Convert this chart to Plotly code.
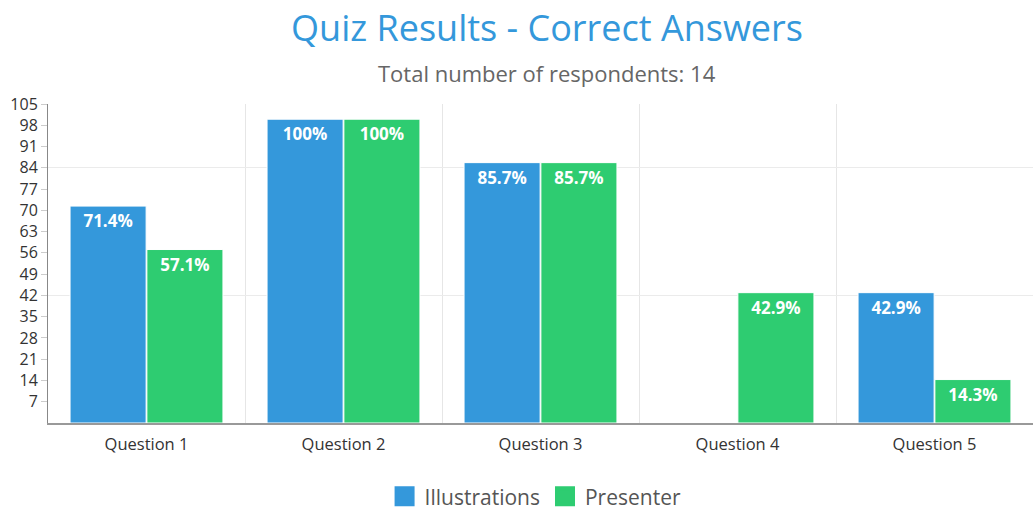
import plotly.graph_objects as go

categories = ["Question 1", "Question 2", "Question 3", "Question 4", "Question 5"]
illustrations = [71.4, 100, 85.7, 0, 42.9]
presenter = [57.1, 100, 85.7, 42.9, 14.3]
y_ticks = [7, 14, 21, 28, 35, 42, 49, 56, 63, 70, 77, 84, 91, 98, 105]
grid_vals = [42, 84]

BLUE = "#3498db"
GREEN = "#2ecc71"
FONT = "Open Sans"


def labels(vals):
    return [f"{v:g}%" if v else "" for v in vals]


fig = go.Figure()
for name, vals, col in [("Illustrations", illustrations, BLUE), ("Presenter", presenter, GREEN)]:
    fig.add_trace(go.Bar(
        name=name, x=categories, y=vals, text=labels(vals),
        textposition="inside", insidetextanchor="end", textangle=0,
        textfont=dict(family=FONT, size=17, color="white", weight="bold"),
        marker=dict(color=col, line=dict(color="white", width=1)),
        showlegend=False,
    ))
    # legend-only entry with a larger square swatch
    fig.add_trace(go.Scatter(
        name=name, x=[None], y=[None], mode="markers",
        marker=dict(symbol="square", size=26, color=col, line=dict(color=col, width=4)),
        showlegend=True, hoverinfo="skip",
    ))
# invisible trace to drive the secondary grid axis
fig.add_trace(go.Scatter(x=categories, y=[None] * len(categories), yaxis="y2",
                         showlegend=False, hoverinfo="skip"))

fig.update_layout(
    width=1033, height=511,
    margin=dict(l=48, r=0, t=104, b=88, autoexpand=False),
    paper_bgcolor="white", plot_bgcolor="white",
    barmode="group", bargap=0.22, bargroupgap=0.01,
    font=dict(family=FONT, color="#333"),
    title=dict(text="Quiz Results - Correct Answers", x=0.5295, xanchor="center",
               y=0.945, yanchor="middle",
               font=dict(family=FONT, size=36, color=BLUE)),
    annotations=[dict(text="Total number of respondents: 14", xref="paper", yref="paper",
                      x=0.5066, y=1.0, yshift=31, yanchor="middle", showarrow=False,
                      font=dict(family=FONT, size=22, color="#666"))],
    legend=dict(orientation="h", x=0.495, xanchor="center", yref="container",
                y=0.028, yanchor="middle", itemsizing="trace",
                font=dict(family=FONT, size=21, color="#555"), itemwidth=30,
                tracegroupgap=0),
    xaxis=dict(tickson="boundaries", showgrid=True, gridcolor="#e6e6e6", gridwidth=1,
               showline=True, linecolor="#999", linewidth=2, ticks="",
               automargin=False, ticklabelstandoff=5,
               tickfont=dict(family=FONT, size=16.5, color="#333")),
    yaxis=dict(range=[0, 105], tickvals=y_ticks, showgrid=False, zeroline=False,
               showline=True, linecolor="#888", linewidth=1, ticks="outside",
               ticklen=6, tickcolor="#ccc", automargin=False,
               tickfont=dict(family=FONT, size=16, color="#333")),
    yaxis2=dict(range=[0, 105], overlaying="y", tickvals=grid_vals, showgrid=True,
                gridcolor="#ebebeb", showticklabels=False, zeroline=False,
                automargin=False, layer="below traces"),
)

fig.write_html("out.html", config={"displayModeBar": False},
               post_script="document.body.style.margin='0';")
